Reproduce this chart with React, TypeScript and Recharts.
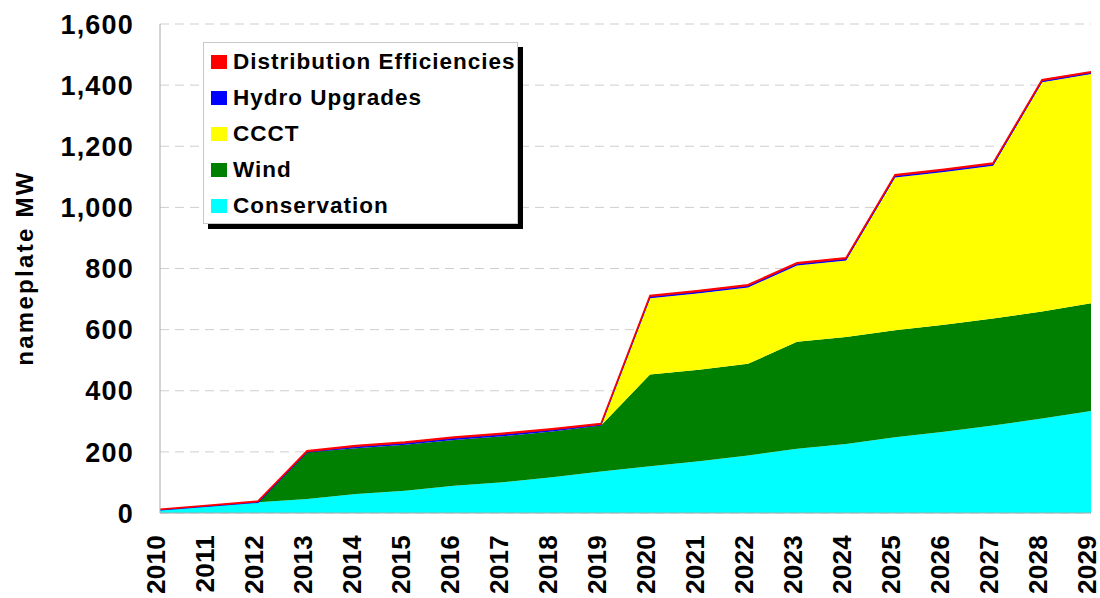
import React from 'react';
import {
  AreaChart,
  Area,
  XAxis,
  YAxis,
  CartesianGrid,
  Legend,
} from 'recharts';

const years = ['2010','2011','2012','2013','2014','2015','2016','2017','2018','2019','2020','2021','2022','2023','2024','2025','2026','2027','2028','2029'];
const conservation = [10, 22, 35, 46, 62, 73, 89, 101, 117, 136, 153, 169, 188, 210, 226, 248, 266, 286, 309, 334];
const wind = [0, 0, 0, 153, 150, 150, 150, 150, 150, 150, 300, 300, 300, 350, 350, 350, 350, 350, 350, 352];
const ccct = [0, 0, 0, 0, 0, 0, 0, 0, 0, 0, 250, 250, 250, 250, 250, 500, 500, 500, 750, 750];
const hydro = [0, 0, 0, 0, 4, 4, 5, 5, 4, 2, 4, 4, 4, 4, 4, 4, 4, 4, 4, 4];
const distribution = [2, 3, 4, 5, 5, 5, 5, 5, 5, 5, 5, 5, 5, 5, 5, 5, 5, 5, 5, 4];
const yTicks = [0, 200, 400, 600, 800, 1000, 1200, 1400, 1600];

const data = years.map((year, i) => ({
  year,
  Conservation: conservation[i],
  Wind: wind[i],
  CCCT: ccct[i],
  'Hydro Upgrades': hydro[i],
  'Distribution Efficiencies': distribution[i],
}));

const legendItems = [
  { name: 'Distribution Efficiencies', color: '#FF0000' },
  { name: 'Hydro Upgrades', color: '#0000FF' },
  { name: 'CCCT', color: '#FFFF00' },
  { name: 'Wind', color: '#008000' },
  { name: 'Conservation', color: '#00FFFF' },
];

const FONT = '"Liberation Sans", Arial, Helvetica, sans-serif';

const XTick = (props: any) => {
  const { x, y, payload } = props;
  return (
    <g transform={`translate(${x},${y})`}>
      <text
        transform="rotate(-90)"
        textAnchor="end"
        dy={5}
        fontFamily={FONT}
        fontWeight="bold"
        fontSize={26}
        letterSpacing={0.3}
        fill="#000"
      >
        {payload.value}
      </text>
    </g>
  );
};

const YTick = (props: any) => {
  const { x, y, payload } = props;
  return (
    <text
      x={x}
      y={y}
      dy="0.36em"
      textAnchor="end"
      fontFamily={FONT}
      fontWeight="bold"
      fontSize={27}
      letterSpacing={1.2}
      fill="#000"
    >
      {Number(payload.value).toLocaleString('en-US')}
    </text>
  );
};

const YLabel = () => (
  <text
    transform="translate(33,268) rotate(-90)"
    textAnchor="middle"
    fontFamily={FONT}
    fontWeight="bold"
    fontSize={24}
    letterSpacing={2.3}
    fill="#000"
  >
    nameplate MW
  </text>
);

const LegendBox = () => (
  <div
    style={{
      width: 313,
      height: 179,
      background: '#fff',
      border: '1px solid #c8c8c8',
      boxShadow: '5px 5px 0 0 #000',
      boxSizing: 'content-box',
      paddingTop: 1,
    }}
  >
    {legendItems.map((it) => (
      <div
        key={it.name}
        style={{ height: 36, display: 'flex', alignItems: 'center', position: 'relative' }}
      >
        <div
          style={{
            position: 'absolute',
            left: 7,
            top: 11,
            width: 16,
            height: 14,
            background: it.color,
          }}
        />
        <span
          style={{
            position: 'absolute',
            left: 29,
            top: 5,
            fontFamily: FONT,
            fontWeight: 'bold',
            fontSize: 22.5,
            letterSpacing: 1,
            lineHeight: '26px',
            color: '#000',
            whiteSpace: 'nowrap',
          }}
        >
          {it.name}
        </span>
      </div>
    ))}
  </div>
);

export default function App() {
  return (
    <div style={{ position: 'absolute', left: 0, top: 0, width: 1100, height: 598, background: '#fff' }}>
      <AreaChart
        width={1100}
        height={598}
        data={data}
        margin={{ top: 24, right: 9, left: 0, bottom: 0 }}
      >
        <CartesianGrid
          vertical={false}
          stroke="#cfcfcf"
          strokeDasharray="9 6"
        />
        <XAxis
          dataKey="year"
          interval={0}
          height={85}
          tickSize={0}
          tickMargin={22}
          tickLine={false}
          axisLine={{ stroke: '#a8a8a8' }}
          tick={<XTick />}
        />
        <YAxis
          domain={[0, 1600]}
          ticks={yTicks}
          width={160}
          tickSize={0}
          tickMargin={26}
          tickLine={false}
          axisLine={{ stroke: '#a8a8a8' }}
          tick={<YTick />}
          label={<YLabel />}
        />
        <YAxis
          yAxisId="frame"
          orientation="right"
          width={0}
          tick={false}
          tickLine={false}
          axisLine={{ stroke: '#c8c8c8' }}
        />
        <Area type="linear" dataKey="Conservation" stackId="1" stroke="none" fill="#00FFFF" fillOpacity={1} isAnimationActive={false} />
        <Area type="linear" dataKey="Wind" stackId="1" stroke="none" fill="#008000" fillOpacity={1} isAnimationActive={false} />
        <Area type="linear" dataKey="CCCT" stackId="1" stroke="none" fill="#FFFF00" fillOpacity={1} isAnimationActive={false} />
        <Area type="linear" dataKey="Hydro Upgrades" stackId="1" stroke="#0000FF" strokeWidth={1.2} fill="#0000FF" fillOpacity={1} isAnimationActive={false} />
        <Area type="linear" dataKey="Distribution Efficiencies" stackId="1" stroke="#FF0000" strokeWidth={1.5} fill="#FF0000" fillOpacity={1} isAnimationActive={false} />
        <Legend
          layout="horizontal"
          verticalAlign="middle"
          align="center"
          content={<LegendBox />}
          wrapperStyle={{ position: 'absolute', left: 203, top: 42, width: 'auto', height: 'auto' }}
        />
      </AreaChart>
    </div>
  );
}
